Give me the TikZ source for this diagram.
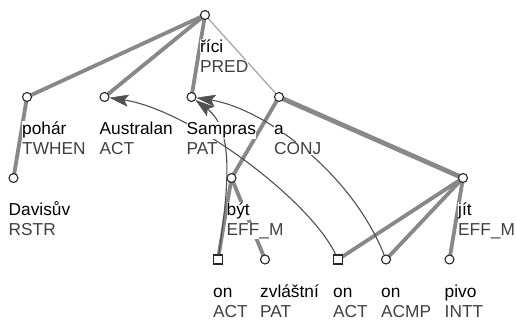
\documentclass[tikz,border=0pt]{standalone}
\usepackage{fontspec}
\setmainfont{Liberation Sans}
\usetikzlibrary{arrows.meta}
\definecolor{edgegray}{HTML}{888888}
\definecolor{thingray}{HTML}{A8A8A8}
\definecolor{corefgray}{HTML}{505050}
\definecolor{funcgray}{HTML}{404040}
\begin{document}
\begin{tikzpicture}[x=1pt,y=-1pt,
  tnode/.style={circle,draw=black!85,fill=white,line width=1.1pt,minimum size=9pt,inner sep=0pt},
  snode/.style={rectangle,draw=black!85,fill=white,line width=1.1pt,minimum size=9pt,inner sep=0pt},
  tedge/.style={draw=edgegray,line width=3.8pt},
  wedge/.style={draw=edgegray,line width=4.8pt},
  thinedge/.style={draw=thingray,line width=1.3pt},
  coref/.style={draw=corefgray,line width=1.1pt,-{Stealth[length=19pt,width=12pt,inset=4pt,line width=0.5pt,fill=corefgray]}},
  lemma/.style={anchor=base west,fill=white,inner xsep=0pt,inner ysep=0.5pt,text=black,font=\fontsize{17.3}{20}\selectfont},
  func/.style={anchor=base west,fill=white,inner xsep=0pt,inner ysep=0.5pt,text=funcgray,font=\fontsize{17.3}{20}\selectfont}]
\useasboundingbox (0,0) rectangle (516,320);
% tree node positions
\coordinate (root) at (205,15);
\coordinate (pohar) at (27,97);
\coordinate (aus) at (104.5,97);
\coordinate (sam) at (191.5,97);
\coordinate (aconj) at (279,97);
\coordinate (dav) at (13.5,178);
\coordinate (byt) at (231.5,178);
\coordinate (jit) at (463,178);
\coordinate (onA) at (218,259.5);
\coordinate (zvl) at (265,259.5);
\coordinate (onB) at (338,259.5);
\coordinate (onC) at (386,259.5);
\coordinate (pivo) at (449.5,259.5);
% edges
\draw[tedge] (root) -- (pohar);
\draw[tedge] (root) -- (aus);
\draw[tedge] (root) -- (sam);
\draw[thinedge] (root) -- (aconj);
\draw[tedge] (pohar) -- (dav);
\draw[tedge] (aconj) -- (byt);
\draw[wedge] (aconj) -- (jit);
\draw[tedge] (byt) -- (onA);
\draw[tedge] (byt) -- (zvl);
\draw[tedge] (jit) -- (onB);
\draw[tedge] (jit) -- (onC);
\draw[tedge] (jit) -- (pivo);
% nodes
\node[tnode] (nroot) at (root) {};
\node[tnode] (npohar) at (pohar) {};
\node[tnode] (naus) at (aus) {};
\node[tnode] (nsam) at (sam) {};
\node[tnode] (naconj) at (aconj) {};
\node[tnode] (ndav) at (dav) {};
\node[tnode] (nbyt) at (byt) {};
\node[tnode] (njit) at (jit) {};
\node[snode] (nonA) at (onA) {};
\node[tnode] (nzvl) at (zvl) {};
\node[snode] (nonB) at (onB) {};
\node[tnode] (nonC) at (onC) {};
\node[tnode] (npivo) at (pivo) {};
% coreference arrows
\draw[coref] (nonA) .. controls (228,190) and (235,130) .. (nsam);
\draw[coref] (nonB) .. controls (310,200) and (190,110) .. (naus);
\draw[coref] (nonC) .. controls (350,170) and (262,108) .. (nsam);
% labels
\node[lemma] (l1root) at (200,52.5) {říci};
\node[func] (l2root) at (200,72.5) {PRED};
\node[lemma] (l1pohar) at (22,134.5) {pohár};
\node[func] (l2pohar) at (22,154.5) {TWHEN};
\node[lemma] (l1aus) at (99.5,134.5) {Australan};
\node[func] (l2aus) at (99.5,154.5) {ACT};
\node[lemma] (l1sam) at (186.5,134.5) {Sampras};
\node[func] (l2sam) at (186.5,154.5) {PAT};
\node[lemma] (l1aconj) at (274,134.5) {a};
\node[func] (l2aconj) at (274,154.5) {CONJ};
\node[lemma] (l1dav) at (8.5,215.5) {Davisův};
\node[func] (l2dav) at (8.5,235.5) {RSTR};
\node[lemma] (l1byt) at (226.5,215.5) {být};
\node[func] (l2byt) at (226.5,235.5) {EFF\_M};
\node[lemma] (l1jit) at (458,215.5) {jít};
\node[func] (l2jit) at (458,235.5) {EFF\_M};
\node[lemma] (l1onA) at (213,297) {on};
\node[func] (l2onA) at (213,317) {ACT};
\node[lemma] (l1zvl) at (260,297) {zvláštní};
\node[func] (l2zvl) at (260,317) {PAT};
\node[lemma] (l1onB) at (333,297) {on};
\node[func] (l2onB) at (333,317) {ACT};
\node[lemma] (l1onC) at (381,297) {on};
\node[func] (l2onC) at (381,317) {ACMP};
\node[lemma] (l1pivo) at (444.5,297) {pivo};
\node[func] (l2pivo) at (444.5,317) {INTT};
\end{tikzpicture}
\end{document}
